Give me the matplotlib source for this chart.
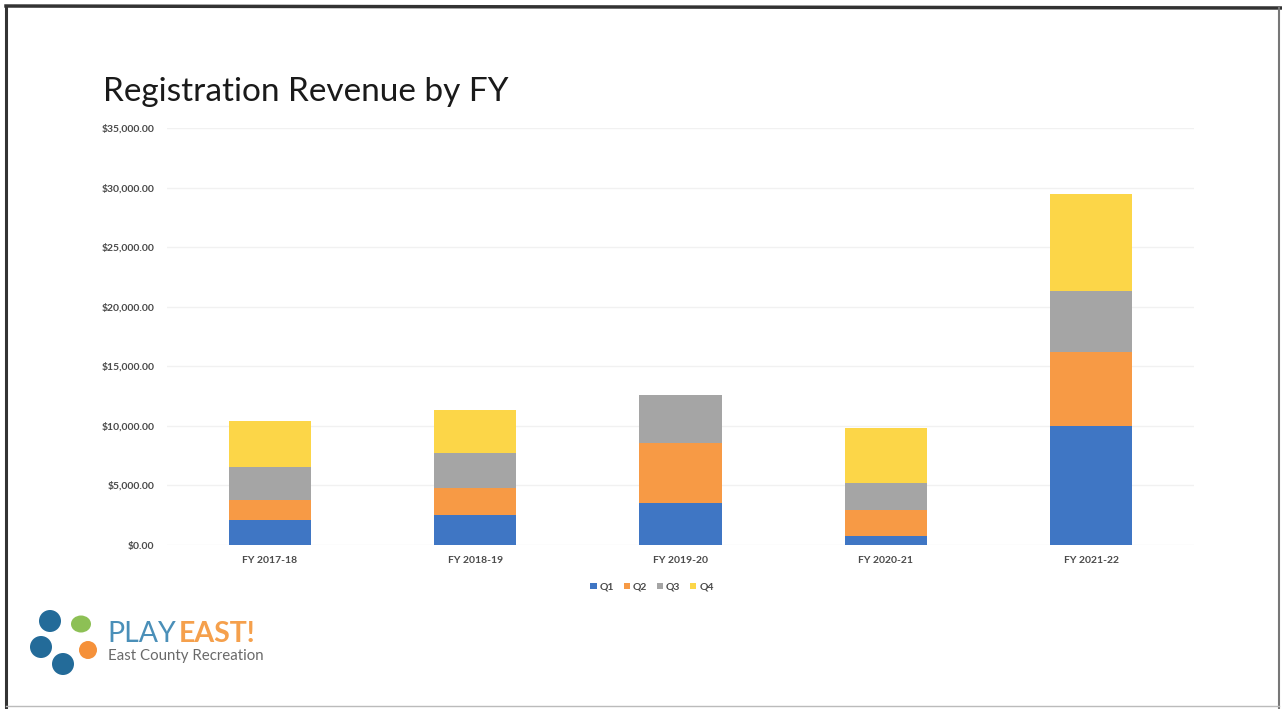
import numpy as np
import matplotlib
matplotlib.use("Agg")
import matplotlib.pyplot as plt
from matplotlib.patches import Circle, Ellipse

# data
years = ["FY 2017-18", "FY 2018-19", "FY 2019-20", "FY 2020-21", "FY 2021-22"]
q1 = [2100, 2520, 3500, 750, 10000]
q2 = [1680, 2240, 5030, 2180, 6220]
q3 = [2800, 2930, 4050, 2240, 5110]
q4 = [3860, 3640, 0, 4610, 8110]
quarters = ["Q1", "Q2", "Q3", "Q4"]
colors = ["#3f76c4", "#f79a45", "#a5a5a5", "#fcd648"]
yticks = [0, 5000, 10000, 15000, 20000, 25000, 30000, 35000]

W, H = 1282, 709
fig = plt.figure(figsize=(W / 100, H / 100), dpi=100)
fig.patch.set_facecolor("white")

# main chart area
ax = fig.add_axes([167 / W, (H - 545) / H, (1194 - 167) / W, (545 - 128) / H])
x = np.arange(len(years))
bottom = np.zeros(len(years))
for name, vals, c in zip(quarters, [q1, q2, q3, q4], colors):
    ax.bar(x, vals, width=0.4, bottom=bottom, color=c, label=name, zorder=3)
    bottom += np.array(vals)

ax.set_xlim(-0.5, len(years) - 0.5)
ax.set_ylim(0, 35000)
ax.set_yticks(yticks)
ax.set_yticklabels(["${:,.2f}".format(v) for v in yticks])
ax.set_xticks(x)
ax.set_xticklabels(years)
for lbl in ax.get_yticklabels() + ax.get_xticklabels():
    lbl.set_fontfamily("Lato")
    lbl.set_fontweight("bold")
    lbl.set_fontsize(7.5)
    lbl.set_color("#4a4a4a")
ax.tick_params(axis="both", length=0)
ax.tick_params(axis="y", pad=9)
ax.tick_params(axis="x", pad=8)
ax.grid(axis="y", color="#f1f1f1", linewidth=1, zorder=0)
for s in ax.spines.values():
    s.set_visible(False)

leg = ax.legend(loc="center", bbox_to_anchor=(652 / W, (H - 587) / H),
                bbox_transform=fig.transFigure, ncol=4, frameon=False,
                handlelength=0.6, handleheight=0.6, handletextpad=0.3,
                columnspacing=0.9, prop={"family": "Lato", "weight": "bold", "size": 7.5})
for t in leg.get_texts():
    t.set_color("#4a4a4a")

# title
fig.text(103 / W, (H - 101) / H, "Registration Revenue by FY", fontsize=24,
         family="Lato", color="#1a1a1a", va="baseline", ha="left")

# overlay in pixel coords for the slide frame and logo
ov = fig.add_axes([0, 0, 1, 1], facecolor="none")
ov.set_xlim(0, W)
ov.set_ylim(H, 0)
ov.axis("off")
ov.plot([6, 6], [6, 709], color="#333333", lw=2.2)
ov.plot([6, 1282], [6, 8], color="#333333", lw=2.5)
ov.plot([1279, 1279], [8, 709], color="#777777", lw=1.5)
ov.plot([6, 1279], [706, 706], color="#bbbbbb", lw=1)

# logo icon
for cx, cy, r in [(50, 621, 11), (41, 647, 11), (63, 664, 11)]:
    ov.add_patch(Circle((cx, cy), r, color="#236b99", lw=0))
ov.add_patch(Ellipse((81, 624), 20, 17, color="#8dc055", lw=0))
ov.add_patch(Ellipse((88, 650), 18, 18, color="#f5913a", lw=0))

ov.text(107, 642, "PLAY", fontsize=20.5, family="Lato", color="#4a8fb8",
        va="baseline", ha="left")
ov.text(179, 642, "EAST!", fontsize=20.5, family="Lato", fontweight="bold",
        color="#f5a04c", va="baseline", ha="left")
ov.text(108, 660, "East County Recreation", fontsize=10.8, family="Lato",
        color="#6a6a6a", va="baseline", ha="left")

fig.savefig("out.png", dpi=100)
